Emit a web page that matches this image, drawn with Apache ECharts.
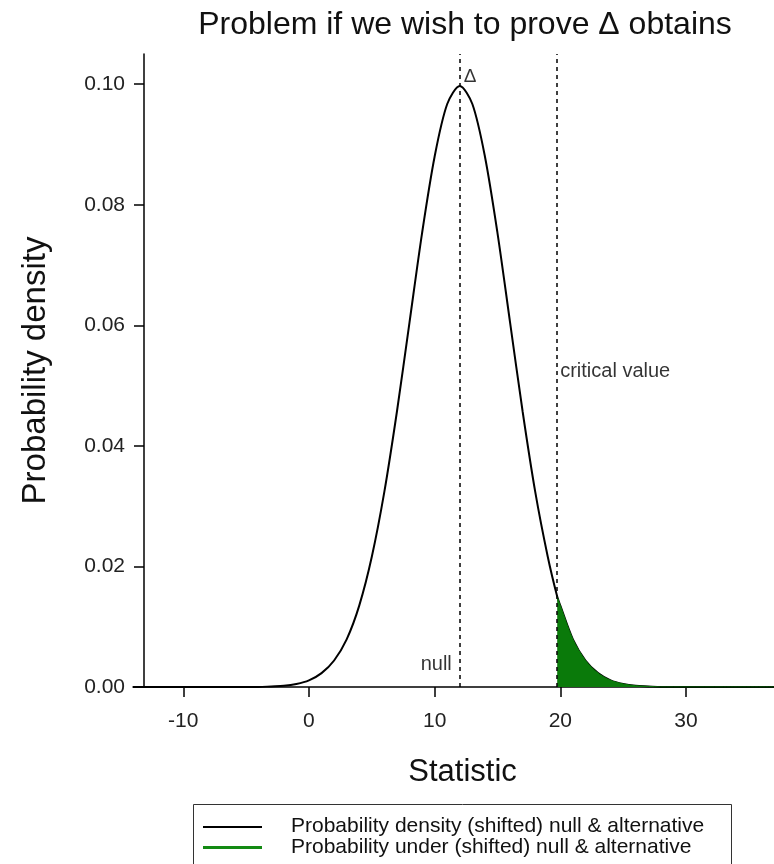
<!DOCTYPE html>
<html>
<head>
<meta charset="utf-8">
<script src="https://cdn.jsdelivr.net/npm/echarts@6/dist/echarts.min.js"></script>
<style>
  html, body { margin: 0; padding: 0; background: #fff; }
  #main { width: 774px; height: 864px; }
</style>
</head>
<body>
<div id="main"></div>
<script>
// values
var xValues = [-14, -13, -12, -11, -10, -9, -8, -7, -6, -5, -4, -3, -2, -1, 0, 1, 2, 3, 4, 5, 6, 7, 8, 9, 10,
    11, 12, 13, 14, 15, 16, 17, 18, 19, 19.75, 20, 21, 22, 23, 24, 25, 26, 27, 28, 30, 33, 37];
var density = [0, 0, 0, 0, 0, 0, 0, 0, 0, 0, 0, 0.0001, 0.0002, 0.0005, 0.0011, 0.0023, 0.0044, 0.0079, 0.0135,
    0.0216, 0.0324, 0.0457, 0.0605, 0.0753, 0.0880, 0.0967, 0.0997, 0.0967, 0.0880, 0.0753, 0.0605, 0.0457,
    0.0324, 0.0216, 0.0150, 0.0135, 0.0079, 0.0044, 0.0023, 0.0011, 0.0005, 0.0002, 0.0001, 0, 0, 0, 0];
var nullValue = 12;
var criticalValue = 19.75;
var xTicks = [-10, 0, 10, 20, 30];
var yTicks = [0, 0.02, 0.04, 0.06, 0.08, 0.10];
var seriesNames = ['Probability density (shifted) null & alternative', 'Probability under (shifted) null & alternative'];

var curve = [];
var tail = [];
for (var i = 0; i < xValues.length; i++) {
    curve.push([xValues[i], density[i]]);
    if (xValues[i] >= criticalValue) tail.push([xValues[i], density[i]]);
}

var font = '"Liberation Sans", Arial, sans-serif';
var myChart = echarts.init(document.getElementById('main'));
var option = {
    animation: false,
    title: {
        text: 'Problem if we wish to prove \u0394 obtains',
        left: 460,
        textAlign: 'center',
        top: 4,
        textStyle: { fontFamily: font, fontSize: 32, fontWeight: 'normal', color: '#111' }
    },
    grid: { left: 133, top: 54, right: -5, bottom: 177 },
    graphic: [{
        type: 'rect',
        left: 193,
        top: 804,
        shape: { width: 538, height: 80 },
        style: { fill: '#fff', stroke: '#333', lineWidth: 1 },
        z: 0
    }],
    legend: {
        orient: 'vertical',
        left: 203,
        top: 816,
        padding: 0,
        itemGap: 0,
        itemWidth: 59,
        itemHeight: 3,
        z: 10,
        textStyle: { fontFamily: font, fontSize: 21, color: '#111', lineHeight: 20, padding: [0, 0, 0, 24] },
        data: [
            { name: seriesNames[0], icon: 'path://M0,0L59,0L59,0.01ZM0,1H59V3H0Z', itemStyle: { color: '#000' } },
            { name: seriesNames[1], icon: 'rect', itemStyle: { color: '#138a13' } }
        ]
    },
    xAxis: {
        type: 'value',
        min: -14,
        max: 37,
        name: 'Statistic',
        nameLocation: 'middle',
        nameGap: 70,
        nameTextStyle: { fontFamily: font, fontSize: 31, color: '#111', padding: [0, 0, 0, 18] },
        splitLine: { show: false },
        axisLine: { onZero: false, lineStyle: { color: '#000', width: 1.5 } },
        axisTick: { length: 10, customValues: xTicks, lineStyle: { color: '#000', width: 1.5 } },
        axisLabel: { customValues: xTicks, margin: 24, fontFamily: font, fontSize: 21, color: '#222' }
    },
    yAxis: {
        type: 'value',
        min: 0,
        max: 0.105,
        offset: -11,
        name: 'Probability density',
        nameLocation: 'middle',
        nameGap: 92,
        nameTextStyle: { fontFamily: font, fontSize: 33, color: '#111' },
        splitLine: { show: false },
        axisLine: { show: true, onZero: false, lineStyle: { color: '#000', width: 1.5 } },
        axisTick: { show: true, length: 10, customValues: yTicks, lineStyle: { color: '#000', width: 1.5 } },
        axisLabel: {
            customValues: yTicks, margin: 19, fontFamily: font, fontSize: 21, color: '#222',
            formatter: function (v) { return v.toFixed(2); }
        }
    },
    series: [{
        name: seriesNames[0],
        type: 'line',
        data: curve,
        smooth: 0.3,
        showSymbol: false,
        z: 2,
        lineStyle: { color: '#000', width: 2 },
        markLine: {
            silent: true,
            symbol: 'none',
            label: { show: false },
            lineStyle: { color: '#000', width: 1.5, type: [4, 4] },
            data: [
                [{ coord: [nullValue, 0] }, { coord: [nullValue, 0.105] }],
                [{ coord: [criticalValue, 0] }, { coord: [criticalValue, 0.105] }]
            ]
        }
    }, {
        name: seriesNames[1],
        type: 'line',
        data: tail,
        smooth: 0.3,
        showSymbol: false,
        z: 3,
        itemStyle: { color: '#138a13' },
        lineStyle: { color: '#0a7a0a', width: 1 },
        areaStyle: { color: '#0a7a0a', opacity: 1 }
    }, {
        type: 'scatter',
        symbolSize: 0,
        silent: true,
        z: 4,
        data: [
            { value: [nullValue, 0.0038], label: { show: true, formatter: 'null', position: 'left', distance: 8 } },
            { value: [criticalValue, 0.0524], label: { show: true, formatter: 'critical value', position: 'right', distance: 3 } },
            { value: [nullValue, 0.1012], label: { show: true, formatter: '\u0394', position: 'right', distance: 4, fontSize: 19 } }
        ],
        label: { fontFamily: font, fontSize: 20, color: '#000' }
    }]
};
myChart.setOption(option);
window.addEventListener('resize', function () {
    myChart.resize();
});
</script>
</body>
</html>
